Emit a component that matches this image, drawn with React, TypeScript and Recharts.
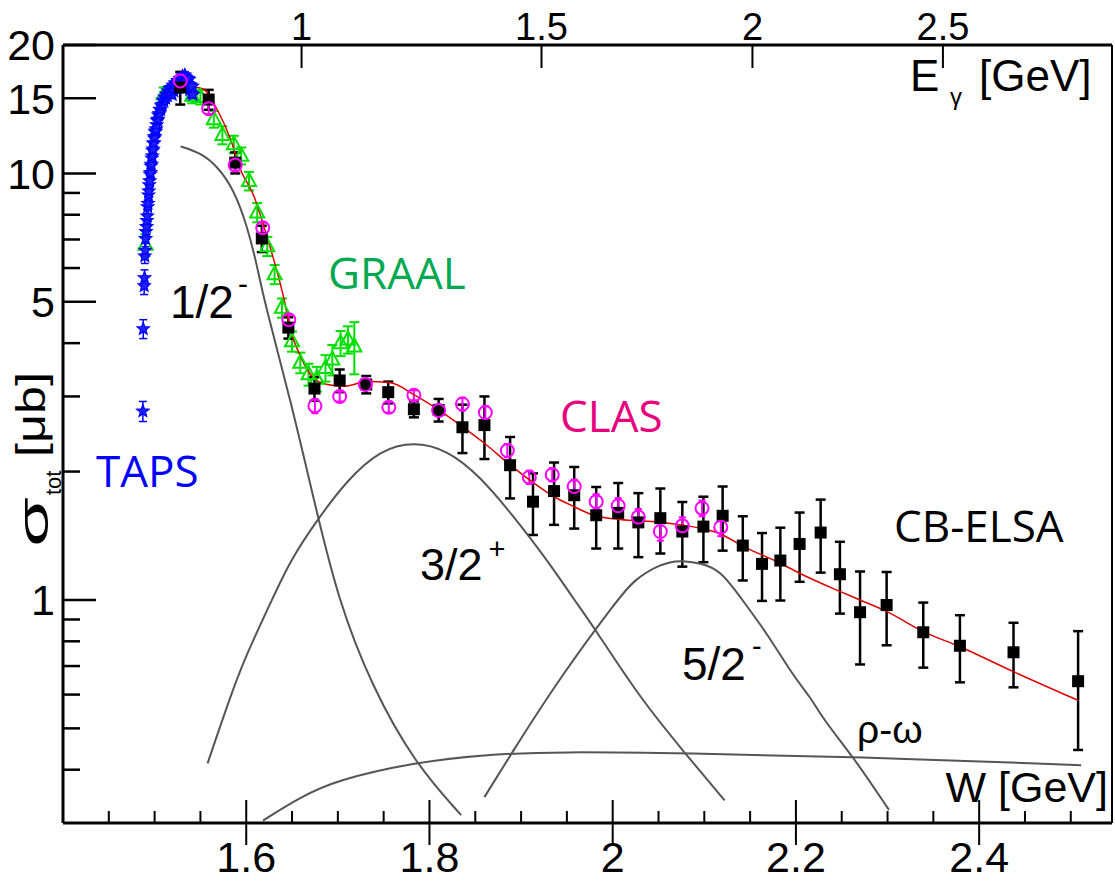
import React from "react";
import { ComposedChart, Line, Scatter, XAxis, YAxis, ErrorBar } from "recharts";

const PROTON_MASS = 0.93827;

// CB-ELSA (black squares)
const elsaW = [1.528, 1.559, 1.588, 1.617, 1.646, 1.6745, 1.702, 1.731, 1.755, 1.783, 1.81, 1.836, 1.86, 1.888, 1.913, 1.936, 1.958, 1.982, 2.006, 2.028, 2.052, 2.076, 2.099, 2.12, 2.142, 2.163, 2.183, 2.204, 2.227, 2.248, 2.27, 2.299, 2.339, 2.379, 2.4375, 2.508];
const elsaSigma = [15.9, 14.9, 10.6, 7.04, 4.35, 3.13, 3.27, 3.2, 3.07, 2.8, 2.79, 2.54, 2.57, 2.07, 1.7, 1.8, 1.76, 1.58, 1.6, 1.52, 1.555, 1.447, 1.486, 1.575, 1.341, 1.215, 1.237, 1.353, 1.439, 1.149, 0.936, 0.973, 0.84, 0.781, 0.754, 0.645];
const elsaErr = [1.4, 0.8, 0.6, 0.5, 0.25, 0.2, 0.2, 0.15, 0.18, 0.12, 0.17, 0.33, 0.43, 0.34, 0.28, 0.3, 0.29, 0.26, 0.28, 0.26, 0.27, 0.25, 0.26, 0.27, 0.23, 0.22, 0.24, 0.25, 0.28, 0.22, 0.23, 0.19, 0.146, 0.14, 0.13, 0.2];

// CLAS (magenta open circles)
const clasW = [1.528, 1.559, 1.588, 1.618, 1.6465, 1.675, 1.702, 1.73, 1.7556, 1.783, 1.81, 1.836, 1.861, 1.885, 1.909, 1.934, 1.958, 1.982, 2.006, 2.028, 2.052, 2.076, 2.0975, 2.118];
const clasSigma = [16.47, 14.18, 10.46, 7.46, 4.54, 2.85, 3.0, 3.2, 2.83, 3.02, 2.78, 2.88, 2.75, 2.24, 1.94, 1.966, 1.845, 1.7, 1.663, 1.564, 1.447, 1.492, 1.641, 1.481];
const clasErr = [0.45, 0.4, 0.3, 0.2, 0.12, 0.11, 0.08, 0.08, 0.08, 0.08, 0.08, 0.1, 0.1, 0.08, 0.07, 0.07, 0.07, 0.07, 0.07, 0.07, 0.07, 0.07, 0.07, 0.07];

// GRAAL (green open triangles)
const graalW = [1.49, 1.51, 1.541, 1.55, 1.5646, 1.574, 1.5865, 1.5945, 1.603, 1.612, 1.623, 1.631, 1.639, 1.65, 1.659, 1.668, 1.677, 1.6865, 1.694, 1.703, 1.711, 1.718];
const graalSigma = [6.8, 15.3, 15.2, 15.1, 13.4, 12.3, 11.7, 11.0, 9.6, 8.1, 6.75, 5.8, 4.84, 4.04, 3.6, 3.38, 3.3, 3.5, 3.66, 4.0, 4.08, 3.93];
const graalErr = [0.4, 0.6, 0.6, 0.6, 0.6, 0.6, 0.55, 0.5, 0.48, 0.42, 0.35, 0.3, 0.25, 0.22, 0.2, 0.2, 0.22, 0.25, 0.3, 0.27, 0.3, 0.55];

// TAPS (blue stars)
const tapsW = [1.4872, 1.4876, 1.4886, 1.489, 1.4893, 1.4897, 1.4901, 1.4906, 1.4912, 1.4916, 1.492, 1.4924, 1.4928, 1.4933, 1.4937, 1.4941, 1.4946, 1.4951, 1.4956, 1.496, 1.4965, 1.497, 1.4974, 1.4979, 1.4983, 1.4988, 1.4992, 1.4997, 1.5001, 1.5006, 1.501, 1.5016, 1.5022, 1.5029, 1.5035, 1.5043, 1.505, 1.5058, 1.5065, 1.5074, 1.5083, 1.5092, 1.5101, 1.511, 1.512, 1.5129, 1.5138, 1.5147, 1.5156, 1.5165, 1.5174, 1.5183, 1.5192, 1.5201, 1.521, 1.5224, 1.5238, 1.5252, 1.5265, 1.5279, 1.5292, 1.5305, 1.5319, 1.533, 1.5338, 1.5347, 1.5356, 1.5365, 1.5374, 1.5383, 1.5392, 1.5402, 1.5411, 1.5418];
const tapsSigma = [2.77, 4.32, 5.45, 5.69, 6.4, 6.6, 7.03, 7.3, 7.5, 7.75, 7.94, 8.35, 8.5, 8.9, 9.09, 9.4, 9.6, 9.95, 10.04, 10.4, 10.5, 10.85, 10.98, 11.3, 11.4, 11.75, 11.8, 12.1, 12.2, 12.5, 12.57, 12.7, 13.0, 13.3, 13.39, 13.7, 13.8, 14.1, 14.13, 14.4, 14.5, 14.85, 14.78, 15.1, 15.0, 15.35, 15.19, 15.6, 15.4, 15.8, 15.5, 15.9, 15.3, 16.1, 15.6, 16.3, 15.8, 16.5, 15.9, 16.7, 16.2, 16.9, 16.47, 17.0, 16.8, 16.4, 16.2, 16.7, 16.6, 15.7, 16.1, 15.4, 16.0, 15.3];
const tapsErr = [0.15, 0.22, 0.25, 0.25, 0.25, 0.25, 0.3, 0.3, 0.3, 0.3, 0.3, 0.3, 0.3, 0.3, 0.3, 0.3, 0.3, 0.3, 0.3, 0.3, 0.3, 0.3, 0.3, 0.3, 0.3, 0.3, 0.3, 0.3, 0.3, 0.3, 0.3, 0.3, 0.3, 0.3, 0.3, 0.3, 0.3, 0.3, 0.3, 0.3, 0.3, 0.3, 0.3, 0.3, 0.3, 0.3, 0.3, 0.3, 0.3, 0.3, 0.3, 0.3, 0.3, 0.3, 0.3, 0.3, 0.3, 0.3, 0.3, 0.3, 0.3, 0.3, 0.3, 0.3, 0.3, 0.3, 0.3, 0.3, 0.3, 0.3, 0.3, 0.3, 0.3, 0.3];

// total fit (red)
const fitW = [1.5283, 1.541, 1.5537, 1.5684, 1.5829, 1.5938, 1.6083, 1.6192, 1.63, 1.641, 1.6483, 1.6593, 1.6738, 1.6884, 1.7065, 1.732, 1.7575, 1.783, 1.81, 1.8357, 1.86, 1.8884, 1.9138, 1.9356, 1.9575, 1.979, 2.005, 2.0302, 2.052, 2.0739, 2.0957, 2.1157, 2.143, 2.183, 2.204, 2.2485, 2.27, 2.2994, 2.339, 2.379, 2.4375, 2.5078];
const fitSigma = [16.3, 16.0, 15.75, 14.1, 12.02, 10.2, 8.85, 7.52, 6.28, 5.1, 4.3, 3.72, 3.31, 3.2, 3.17, 3.25, 3.23, 3.03, 2.79, 2.55, 2.33, 2.07, 1.88, 1.748, 1.656, 1.58, 1.547, 1.533, 1.522, 1.5, 1.473, 1.434, 1.334, 1.219, 1.155, 1.046, 1.0, 0.939, 0.843, 0.777, 0.679, 0.582];

// partial waves (gray)
const s11W = [1.5283, 1.5501, 1.5684, 1.5865, 1.6011, 1.612, 1.6192, 1.6483, 1.6738, 1.7002, 1.7372, 1.784, 1.8346];
const s11Sigma = [11.57, 11.18, 10.4, 9.17, 7.52, 6.06, 5.06, 2.95, 1.717, 1.0, 0.626, 0.414, 0.313];
const p13W = [1.5578, 1.5851, 1.6, 1.628, 1.6483, 1.6775, 1.7102, 1.7465, 1.7829, 1.8193, 1.8557, 1.892, 1.9284, 1.9582, 1.98, 2.0287, 2.0793, 2.1222];
const p13Sigma = [0.414, 0.615, 0.743, 1.0, 1.241, 1.541, 1.912, 2.25, 2.353, 2.25, 1.947, 1.568, 1.241, 1.0, 0.86, 0.593, 0.436, 0.339];
const d15W = [1.86, 1.8892, 1.943, 2.0051, 2.023, 2.052, 2.074, 2.0957, 2.1175, 2.1415, 2.1685, 2.1975, 2.2157, 2.2302, 2.2626, 2.3015];
const d15Sigma = [0.345, 0.436, 0.661, 1.0, 1.114, 1.215, 1.241, 1.219, 1.176, 1.0, 0.835, 0.661, 0.593, 0.523, 0.429, 0.322];
const rhoW = [1.6183, 1.6592, 1.6982, 1.784, 1.8578, 1.943, 2.0793, 2.2626, 2.5113];
const rhoSigma = [0.304, 0.345, 0.378, 0.416, 0.434, 0.441, 0.437, 0.429, 0.41];

// axes
const W_DOMAIN = [1.4, 2.545];
const SIGMA_DOMAIN = [0.3, 20];
const X_TICKS = [1.45, 1.5, 1.55, 1.6, 1.65, 1.7, 1.75, 1.8, 1.85, 1.9, 1.95, 2.0, 2.05, 2.1, 2.15, 2.2, 2.25, 2.3, 2.35, 2.4, 2.45, 2.5];
const X_LABELS = [1.6, 1.8, 2.0, 2.2, 2.4];
const Y_TICKS = [0.4, 0.5, 0.6, 0.7, 0.8, 0.9, 1, 2, 3, 4, 5, 6, 7, 8, 9, 10, 15, 20];
const Y_LABELS = [1, 5, 10, 15, 20];
const E_LABELS = [1, 1.5, 2, 2.5];

const zip = (w: number[], s: number[], e?: number[]) =>
  w.map((x, i) => ({ w: x, v: s[i], e: e ? e[i] : 0 }));

const elsaData = zip(elsaW, elsaSigma, elsaErr);
const clasData = zip(clasW, clasSigma, clasErr);
const graalData = zip(graalW, graalSigma, graalErr);
const tapsData = zip(tapsW, tapsSigma, tapsErr);
const fitData = zip(fitW, fitSigma);
const s11Data = zip(s11W, s11Sigma);
const p13Data = zip(p13W, p13Sigma);
const d15Data = zip(d15W, d15Sigma);
const rhoData = zip(rhoW, rhoSigma);

// photon beam energy -> W
const eToW = (e: number) => Math.sqrt(PROTON_MASS * PROTON_MASS + 2 * PROTON_MASS * e);
const TOP_TICKS = E_LABELS.map(eToW);

const AXIS_FONT = "'Liberation Sans', Arial, Helvetica, sans-serif";
const LABEL_FONT = "'Open Sans', 'Noto Sans', sans-serif";

const near = (list: number[], v: number) => list.some((t) => Math.abs(t - v) < 1e-6);
const fmt = (v: number) => String(Math.round(v * 100) / 100);

const BottomTick = (props: any) => {
  const { x, y, payload } = props;
  const major = near(X_LABELS, payload.value);
  return (
    <g>
      <line x1={x} x2={x} y1={y - (major ? 23 : 12)} y2={major ? y + 22 : y} stroke="#000" strokeWidth={2} />
      {major && (
        <text x={x} y={y + 49} textAnchor="middle" fontSize={43} fontFamily={AXIS_FONT} fill="#000">
          {fmt(payload.value)}
        </text>
      )}
    </g>
  );
};

const TopTick = (props: any) => {
  const { x, y, index } = props;
  return (
    <g>
      <line x1={x} x2={x} y1={y} y2={y + 23} stroke="#000" strokeWidth={2} />
      <text x={x} y={y - 5} textAnchor="middle" fontSize={38} fontFamily={AXIS_FONT} fill="#000">
        {String(E_LABELS[index])}
      </text>
    </g>
  );
};

const LeftTick = (props: any) => {
  const { x, y, payload } = props;
  const labelled = near(Y_LABELS, payload.value);
  return (
    <g>
      <line x1={x} x2={x + (labelled ? 33 : 17)} y1={y} y2={y} stroke="#000" strokeWidth={2.5} />
      {labelled && (
        <text x={x - 8} y={y} dy="0.36em" textAnchor="end" fontSize={43} fontFamily={AXIS_FONT} fill="#000">
          {fmt(payload.value)}
        </text>
      )}
    </g>
  );
};

const Square = (p: any) => <rect x={p.cx - 6} y={p.cy - 6} width={12} height={12} fill="#000" />;
const OpenCircle = (p: any) => <circle cx={p.cx} cy={p.cy} r={6.5} fill="none" stroke="#ff00ff" strokeWidth={2} />;
const OpenTriangle = (p: any) => (
  <polygon
    points={`${p.cx},${p.cy - 8} ${p.cx - 7},${p.cy + 5} ${p.cx + 7},${p.cy + 5}`}
    fill="none"
    stroke="#00e000"
    strokeWidth={2}
  />
);
const Star = (p: any) => {
  const pts: string[] = [];
  for (let k = 0; k < 10; k++) {
    const r = k % 2 === 0 ? 6.5 : 2.8;
    const a = -Math.PI / 2 + (k * Math.PI) / 5;
    pts.push(`${p.cx + r * Math.cos(a)},${p.cy + r * Math.sin(a)}`);
  }
  return <polygon points={pts.join(" ")} fill="#2020ff" stroke="#0000ff" strokeWidth={1.2} />;
};

export default function App() {
  return (
    <div style={{ position: "absolute", left: 0, top: 0, width: 1115, height: 881, background: "#fff" }}>
      <ComposedChart width={1115} height={881} margin={{ top: 0, right: 0, bottom: 0, left: 0 }}>
        <XAxis
          type="number"
          dataKey="w"
          domain={W_DOMAIN}
          allowDataOverflow
          ticks={X_TICKS}
          interval={0}
          height={58}
          tickSize={0}
          tickMargin={0}
          tickLine={false}
          tick={BottomTick}
          axisLine={{ stroke: "#000", strokeWidth: 3 }}
        />
        <XAxis
          xAxisId="top"
          orientation="top"
          type="number"
          dataKey="w"
          domain={W_DOMAIN}
          allowDataOverflow
          ticks={TOP_TICKS}
          interval={0}
          height={45}
          tickSize={0}
          tickMargin={0}
          tickLine={false}
          tick={TopTick}
          axisLine={{ stroke: "#000", strokeWidth: 3 }}
        />
        <YAxis
          type="number"
          dataKey="v"
          scale="log"
          domain={SIGMA_DOMAIN}
          allowDataOverflow
          ticks={Y_TICKS}
          interval={0}
          width={63}
          tickSize={0}
          tickMargin={0}
          tickLine={false}
          tick={LeftTick}
          axisLine={{ stroke: "#000", strokeWidth: 3 }}
        />
        <YAxis
          yAxisId="right"
          orientation="right"
          type="number"
          domain={[0, 1]}
          width={3}
          tick={false}
          tickLine={false}
          axisLine={{ stroke: "#000", strokeWidth: 2 }}
        />

        <Scatter data={graalData} shape={OpenTriangle} isAnimationActive={false}>
          <ErrorBar dataKey="e" direction="y" width={5} stroke="#00e000" strokeWidth={2} />
        </Scatter>
        <Scatter data={tapsData} shape={Star} isAnimationActive={false}>
          <ErrorBar dataKey="e" direction="y" width={4} stroke="#0000ff" strokeWidth={1.5} />
        </Scatter>
        <Scatter data={elsaData} shape={Square} isAnimationActive={false}>
          <ErrorBar dataKey="e" direction="y" width={5} stroke="#000" strokeWidth={2.5} />
        </Scatter>
        <Scatter data={clasData} shape={OpenCircle} isAnimationActive={false}>
          <ErrorBar dataKey="e" direction="y" width={3.5} stroke="#ff00ff" strokeWidth={2} />
        </Scatter>

        <Line data={s11Data} dataKey="v" type="basis" stroke="#555" strokeWidth={2} dot={false} isAnimationActive={false} />
        <Line data={p13Data} dataKey="v" type="basis" stroke="#555" strokeWidth={2} dot={false} isAnimationActive={false} />
        <Line data={d15Data} dataKey="v" type="basis" stroke="#555" strokeWidth={2} dot={false} isAnimationActive={false} />
        <Line data={rhoData} dataKey="v" type="basis" stroke="#555" strokeWidth={2} dot={false} isAnimationActive={false} />
        <Line data={fitData} dataKey="v" type="monotone" stroke="#e00000" strokeWidth={1.5} dot={false} isAnimationActive={false} />
      </ComposedChart>

      <svg width={1115} height={881} style={{ position: "absolute", left: 0, top: 0, pointerEvents: "none" }}>
        <g fontFamily={AXIS_FONT} fill="#000">
          <text transform="translate(48,547) rotate(-90)" fontSize={42} textLength={50} lengthAdjust="spacingAndGlyphs">σ</text>
          <text transform="translate(61,495) rotate(-90)" fontSize={22}>tot</text>
          <text transform="translate(45,457) rotate(-90)" fontSize={41} textLength={85} lengthAdjust="spacingAndGlyphs">[μb]</text>

          <text x={910} y={91} fontSize={44}>E</text>
          <text x={950} y={105} fontSize={24}>γ</text>
          <text x={979} y={91} fontSize={44}>[GeV]</text>

          <text x={1108} y={802} fontSize={43} textAnchor="end">W [GeV]</text>

          <text x={170} y={318} fontSize={46}>
            1/2<tspan fontSize={30} dx={4} dy={-24}>-</tspan>
          </text>
          <text x={420} y={580} fontSize={45}>
            3/2<tspan fontSize={29} dx={6} dy={-21}>+</tspan>
          </text>
          <text x={682} y={680} fontSize={46}>
            5/2<tspan fontSize={29} dx={6} dy={-24}>-</tspan>
          </text>
          <text x={857} y={743} fontSize={39}>ρ-ω</text>
        </g>
        <g fontFamily={LABEL_FONT} fontSize={44}>
          <text x={96} y={487} fill="#0000ff">TAPS</text>
          <text x={328} y={289} fill="#00a84f">GRAAL</text>
          <text x={560} y={432} fill="#e6007e">CLAS</text>
          <text x={894} y={542} fill="#000">CB-ELSA</text>
        </g>
      </svg>
    </div>
  );
}
